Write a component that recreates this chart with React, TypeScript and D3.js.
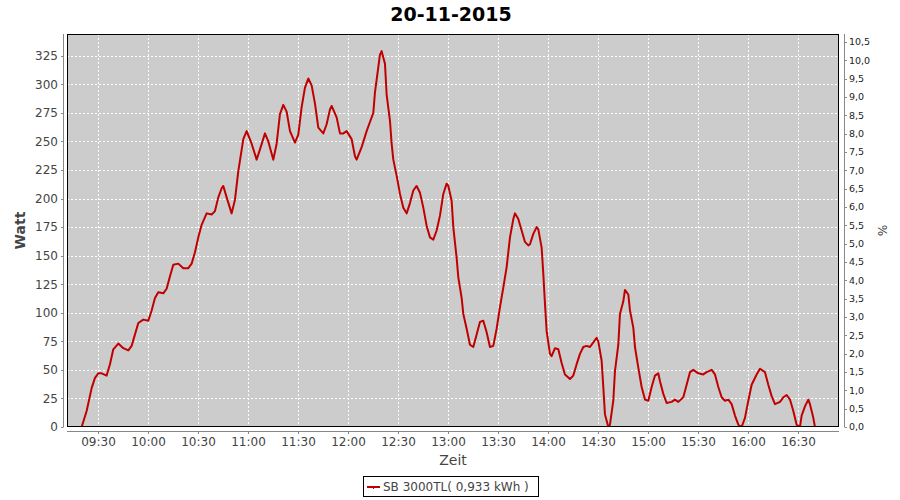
import React, { useEffect } from "react";
import * as d3 from "d3";

const title = "20-11-2015";
const seriesName = "SB 3000TL( 0,933 kWh )";
const xAxisLabel = "Zeit";
const yAxisLabel = "Watt";
const y2AxisLabel = "%";

const times = [
  "09:20", "09:23", "09:26", "09:28", "09:30", "09:32", "09:35", "09:37", "09:39", "09:42",
  "09:45", "09:48", "09:50", "09:54", "09:57", "10:00", "10:02", "10:04", "10:06", "10:09",
  "10:11", "10:13", "10:15", "10:18", "10:21", "10:24", "10:26", "10:28", "10:30", "10:32",
  "10:35", "10:38", "10:40", "10:42", "10:44", "10:45", "10:47", "10:50", "10:52", "10:54",
  "10:57", "10:59", "11:02", "11:05", "11:07", "11:10", "11:12", "11:15", "11:17", "11:19",
  "11:21", "11:23", "11:25", "11:28", "11:30", "11:32", "11:34", "11:36", "11:38", "11:40",
  "11:42", "11:45", "11:47", "11:49", "11:50", "11:53", "11:55", "11:57", "11:59", "12:02",
  "12:04", "12:05", "12:08", "12:11", "12:13", "12:15", "12:16", "12:18", "12:19", "12:20",
  "12:22", "12:23", "12:25", "12:26", "12:27", "12:29", "12:31", "12:33", "12:35", "12:37",
  "12:39", "12:41", "12:43", "12:45", "12:47", "12:49", "12:51", "12:53", "12:55", "12:57",
  "12:59", "13:00", "13:02", "13:03", "13:05", "13:06", "13:08", "13:09", "13:11", "13:13",
  "13:15", "13:17", "13:19", "13:21", "13:23", "13:25", "13:27", "13:29", "13:31", "13:33",
  "13:35", "13:37", "13:39", "13:40", "13:42", "13:44", "13:46", "13:48", "13:49", "13:51",
  "13:53", "13:54", "13:56", "13:57", "13:58", "13:59", "14:01", "14:02", "14:04", "14:06",
  "14:08", "14:10", "14:13", "14:15", "14:17", "14:19", "14:21", "14:23", "14:25", "14:27",
  "14:29", "14:30", "14:32", "14:33", "14:34", "14:36", "14:37", "14:39", "14:40", "14:42",
  "14:43", "14:45", "14:46", "14:48", "14:49", "14:51", "14:52", "14:54", "14:56", "14:58",
  "15:00", "15:02", "15:04", "15:06", "15:07", "15:09", "15:11", "15:14", "15:16", "15:18",
  "15:21", "15:23", "15:25", "15:27", "15:30", "15:33", "15:35", "15:38", "15:40", "15:42",
  "15:44", "15:46", "15:48", "15:50", "15:52", "15:54", "15:56", "15:58", "16:00", "16:02",
  "16:05", "16:07", "16:10", "16:12", "16:14", "16:16", "16:19", "16:21", "16:23", "16:25",
  "16:27", "16:29", "16:31", "16:32", "16:34", "16:36", "16:37", "16:39", "16:40", "16:45"
];

const watts = [
  0, 14, 34, 43, 47, 47, 45, 55, 68, 73,
  69, 67, 71, 91, 94, 93, 102, 113, 118, 117,
  121, 132, 142, 143, 139, 139, 143, 153, 166, 177,
  187, 186, 189, 201, 209, 211, 201, 187, 199, 224,
  252, 259, 248, 234, 243, 257, 250, 234, 248, 274,
  282, 276, 259, 249, 256, 280, 297, 305, 299, 283,
  262, 257, 265, 278, 281, 271, 257, 257, 259, 252,
  237, 234, 245, 259, 267, 275, 293, 315, 326, 329,
  318, 291, 268, 248, 234, 220, 204, 192, 187, 196,
  207, 211, 205, 192, 176, 166, 164, 172, 185, 204,
  213, 211, 198, 175, 148, 131, 113, 99, 86, 72,
  70, 81, 92, 93, 83, 70, 71, 86, 105, 122,
  140, 166, 182, 187, 182, 172, 162, 159, 160, 169,
  175, 173, 157, 134, 108, 84, 64, 62, 69, 68,
  56, 46, 42, 45, 55, 64, 70, 71, 70, 74,
  78, 75, 58, 35, 11, 0, 2, 23, 49, 72,
  99, 110, 120, 116, 102, 87, 70, 52, 35, 24,
  23, 35, 45, 47, 40, 29, 21, 22, 24, 22,
  26, 37, 48, 50, 47, 46, 48, 50, 46, 35,
  26, 23, 24, 20, 10, 2, 0, 8, 23, 37,
  46, 51, 48, 37, 27, 20, 22, 26, 28, 24,
  14, 2, 0, 10, 18, 24, 20, 8, 0, 0
];

const xTickLabels = [
  "09:30", "10:00", "10:30", "11:00", "11:30", "12:00", "12:30",
  "13:00", "13:30", "14:00", "14:30", "15:00", "15:30", "16:00", "16:30"
];
const wattTicks = [0, 25, 50, 75, 100, 125, 150, 175, 200, 225, 250, 275, 300, 325];
const pctTicks = [0, 0.5, 1, 1.5, 2, 2.5, 3, 3.5, 4, 4.5, 5, 5.5, 6, 6.5, 7, 7.5, 8, 8.5, 9, 9.5, 10, 10.5];

const xDomain = ["09:11:13", "16:54:25"];
const wattMax = 344;
const pctMax = 10.72;

const FONT = "'DejaVu Sans', sans-serif";

export default function App() {
  useEffect(() => {
    document.body.style.margin = "0";
  }, []);

  const W = 900;
  const H = 500;
  const left = 67, right = 839, top = 34, bottom = 427;

  const parseHM = d3.timeParse("%H:%M");
  const parseHMS = d3.timeParse("%H:%M:%S");

  const x = d3.scaleTime()
    .domain([parseHMS(xDomain[0]) as Date, parseHMS(xDomain[1]) as Date])
    .range([left, right]);
  const y = d3.scaleLinear().domain([0, wattMax]).range([bottom, top]);
  const y2 = d3.scaleLinear().domain([0, pctMax]).range([bottom, top]);

  const data = times.map((t, i) => ({ t: parseHM(t) as Date, v: watts[i] }));
  const line = d3.line<{ t: Date; v: number }>()
    .x((d) => x(d.t))
    .y((d) => y(d.v));

  const crisp = (v: number) => Math.round(v) + 0.5;
  const pctFmt = (v: number) => d3.format(".1f")(v).replace(".", ",");

  const axisColor = "#888888";
  const labelColor = "#444444";
  const leftAxisX = 63.5;
  const rightAxisX = 844.5;
  const bottomAxisY = 431.5;

  return (
    <svg width={W} height={H} style={{ display: "block", position: "absolute", left: 0, top: 0 }} fontFamily={FONT}>
      <rect x={0} y={0} width={W} height={H} fill="#ffffff" />
      <text x={451} y={21} textAnchor="middle" fontSize={19} fontWeight="bold" fill="#000">{title}</text>

      <defs>
        <clipPath id="plotClip">
          <rect x={left} y={top} width={right - left} height={bottom - top} />
        </clipPath>
      </defs>

      <rect x={left} y={top} width={right - left} height={bottom - top} fill="#cccccc" />

      {wattTicks.map((v) => (
        <line key={"hg" + v} x1={left} x2={right} y1={crisp(y(v))} y2={crisp(y(v))}
          stroke="#ffffff" strokeWidth={1} strokeDasharray="2,2" />
      ))}
      {xTickLabels.map((s) => {
        const xp = crisp(x(parseHM(s) as Date));
        return (
          <line key={"vg" + s} x1={xp} x2={xp} y1={top} y2={bottom}
            stroke="#ffffff" strokeWidth={1} strokeDasharray="2,2" />
        );
      })}

      <path d={line(data) || ""} fill="none" stroke="#c00000" strokeWidth={2}
        strokeLinejoin="round" clipPath="url(#plotClip)" />

      <rect x={left + 0.5} y={top + 0.5} width={right - left - 1} height={bottom - top - 1}
        fill="none" stroke="#000" strokeWidth={1} />

      {/* left axis */}
      <line x1={leftAxisX} x2={leftAxisX} y1={top} y2={bottom} stroke={axisColor} />
      {wattTicks.map((v) => (
        <g key={"lt" + v}>
          <line x1={leftAxisX - 2.5} x2={leftAxisX} y1={crisp(y(v))} y2={crisp(y(v))} stroke={axisColor} />
          <text x={58} y={y(v)} dy="0.36em" textAnchor="end" fontSize={12} fill={labelColor}>{v}</text>
        </g>
      ))}
      <text transform={`translate(25,${(top + bottom) / 2}) rotate(-90)`} textAnchor="middle"
        fontSize={14} fontWeight="bold" fill={labelColor}>{yAxisLabel}</text>

      {/* right axis */}
      <line x1={rightAxisX} x2={rightAxisX} y1={top} y2={bottom} stroke={axisColor} />
      {pctTicks.map((v) => (
        <g key={"rt" + v}>
          <line x1={rightAxisX} x2={rightAxisX + 2.5} y1={crisp(y2(v))} y2={crisp(y2(v))} stroke={axisColor} />
          <text x={849} y={y2(v)} dy="0.36em" textAnchor="start" fontSize={9.5} fill="#222">{pctFmt(v)}</text>
        </g>
      ))}
      <text transform={`translate(878,${(top + bottom) / 2}) rotate(90)`} textAnchor="middle"
        fontSize={12} fill={labelColor}>{y2AxisLabel}</text>

      {/* bottom axis */}
      <line x1={left} x2={right} y1={bottomAxisY} y2={bottomAxisY} stroke={axisColor} />
      {xTickLabels.map((s) => {
        const xp = crisp(x(parseHM(s) as Date));
        return (
          <g key={"bt" + s}>
            <line x1={xp} x2={xp} y1={bottomAxisY} y2={bottomAxisY + 2.5} stroke={axisColor} />
            <text x={xp} y={446} textAnchor="middle" fontSize={12} fill={labelColor}>{s}</text>
          </g>
        );
      })}
      <text x={(left + right) / 2} y={465} textAnchor="middle" fontSize={14} fill={labelColor}>{xAxisLabel}</text>

      {/* legend */}
      <rect x={363.5} y={476.5} width={175} height={20} fill="#ffffff" stroke="#000" strokeWidth={1} />
      <line x1={367} x2={380} y1={487} y2={487} stroke="#c00000" strokeWidth={2} />
      <line x1={373.5} x2={373.5} y1={487} y2={489} stroke="#c00000" strokeWidth={1} />
      <text x={383} y={491} fontSize={12} fill={labelColor}>{seriesName}</text>
    </svg>
  );
}
